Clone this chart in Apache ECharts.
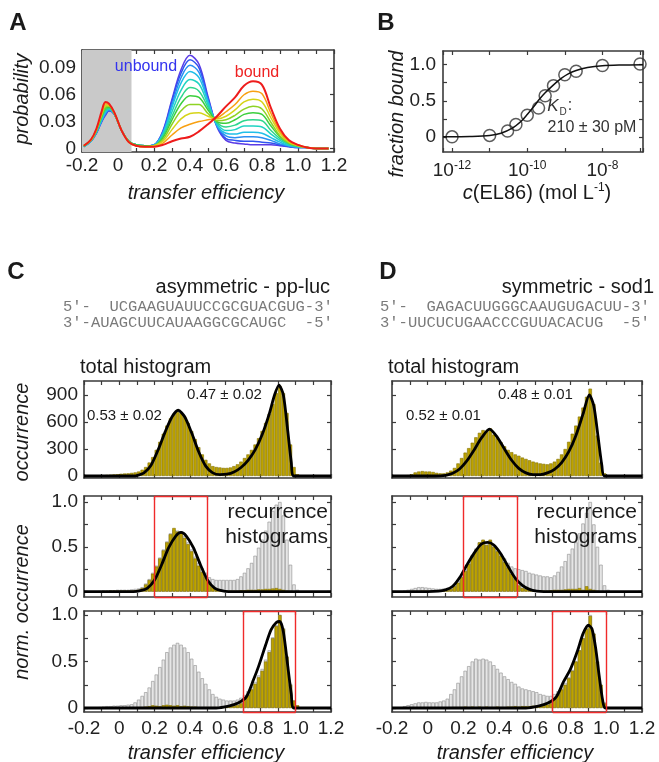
<!DOCTYPE html>
<html>
<head>
<meta charset="utf-8">
<script src="https://cdn.jsdelivr.net/npm/echarts@6/dist/echarts.min.js"></script>
<style>
html, body { margin: 0; padding: 0; background: #fff; }
#main { width: 659px; height: 762px; }
</style>
</head>
<body>
<div id="main"></div>
<script>
// ---- panel A: transfer efficiency histograms vs. EL86 (unbound -> bound)
var effA = [-0.19, -0.15, -0.12, -0.09, -0.07, -0.05, -0.02, 0.02, 0.06, 0.1, 0.15, 0.2, 0.25, 0.3, 0.35, 0.4,
  0.45, 0.5, 0.55, 0.6, 0.65, 0.7, 0.75, 0.8, 0.85, 0.9, 0.95, 1.0, 1.05, 1.1, 1.17];
var probA = [
  [0.002,0.008,0.017,0.030,0.037,0.042,0.038,0.020,0.008,0.004,0.003,0.004,0.020,0.055,0.088,0.104,0.094,0.058,0.024,0.009,0.006,0.005,0.004,0.004,0.004,0.003,0.002,0.001,0.001,0,0],
  [0.002,0.008,0.017,0.031,0.038,0.042,0.038,0.020,0.008,0.004,0.003,0.004,0.019,0.053,0.084,0.099,0.090,0.056,0.025,0.011,0.009,0.008,0.008,0.007,0.006,0.004,0.002,0.001,0.001,0,0],
  [0.002,0.008,0.018,0.031,0.039,0.043,0.038,0.020,0.008,0.004,0.003,0.004,0.018,0.049,0.079,0.093,0.085,0.054,0.025,0.014,0.012,0.013,0.013,0.012,0.009,0.005,0.003,0.001,0.001,0,0],
  [0.002,0.008,0.018,0.032,0.040,0.044,0.038,0.020,0.008,0.004,0.003,0.004,0.017,0.046,0.073,0.086,0.079,0.052,0.026,0.017,0.016,0.018,0.018,0.017,0.012,0.007,0.003,0.002,0.001,0,0],
  [0.002,0.009,0.019,0.034,0.042,0.044,0.039,0.020,0.008,0.004,0.003,0.003,0.015,0.041,0.065,0.077,0.072,0.049,0.028,0.020,0.021,0.025,0.025,0.024,0.016,0.009,0.004,0.002,0.001,0,0],
  [0.002,0.009,0.019,0.035,0.043,0.045,0.039,0.020,0.008,0.004,0.003,0.003,0.014,0.036,0.057,0.068,0.064,0.046,0.029,0.024,0.026,0.031,0.032,0.031,0.020,0.011,0.005,0.002,0.001,0,0],
  [0.003,0.009,0.020,0.036,0.045,0.046,0.039,0.020,0.008,0.004,0.003,0.003,0.012,0.032,0.050,0.059,0.057,0.043,0.030,0.028,0.032,0.038,0.040,0.038,0.025,0.013,0.006,0.003,0.001,0,0],
  [0.003,0.009,0.020,0.037,0.046,0.047,0.039,0.020,0.008,0.003,0.002,0.003,0.010,0.027,0.042,0.049,0.049,0.039,0.031,0.032,0.037,0.044,0.047,0.044,0.029,0.014,0.006,0.003,0.001,0,0],
  [0.003,0.009,0.021,0.039,0.048,0.048,0.039,0.020,0.007,0.003,0.002,0.003,0.008,0.021,0.033,0.039,0.040,0.036,0.033,0.036,0.043,0.052,0.055,0.052,0.034,0.017,0.007,0.003,0.001,0,0],
  [0.003,0.010,0.021,0.040,0.050,0.049,0.040,0.020,0.007,0.003,0.002,0.002,0.006,0.015,0.023,0.027,0.030,0.032,0.034,0.041,0.049,0.060,0.064,0.061,0.039,0.019,0.008,0.004,0.001,0,0],
  [0.003,0.010,0.022,0.042,0.052,0.050,0.040,0.020,0.007,0.003,0.002,0.002,0.004,0.008,0.011,0.013,0.019,0.027,0.036,0.047,0.057,0.070,0.075,0.071,0.045,0.022,0.009,0.004,0.001,0,0]
];
var colorsA = ['#5a3be6', '#2f55f0', '#2a8ff2', '#20bfe8', '#1fd4c2', '#2ed68c', '#3ccf3e', '#8ed324', '#d6d418', '#f8a012', '#ee1c1c'];
var grayEdgeA = 0.075;

// ---- panel B: binding isotherm
var concB = [1e-12, 1e-11, 3e-11, 5e-11, 1e-10, 2e-10, 3e-10, 5e-10, 1e-9, 2e-9, 1e-8, 1e-7];
var fracB = [0.0, 0.02, 0.08, 0.17, 0.30, 0.40, 0.57, 0.71, 0.86, 0.91, 0.99, 1.01];
var fitConcB = [5.75e-13, 1e-12, 3e-12, 1e-11, 2e-11, 4e-11, 7e-11, 1e-10, 1.5e-10, 2.1e-10, 3e-10, 5e-10, 8e-10, 1.2e-9, 2e-9, 4e-9, 1e-8, 3e-8, 1.2e-7];
var fitFracB = [0.0, 0.0, 0.005, 0.02, 0.05, 0.12, 0.22, 0.31, 0.42, 0.52, 0.61, 0.72, 0.81, 0.87, 0.92, 0.96, 0.985, 0.995, 1.0];

// ---- panels C and D: histograms, bins of 0.02 centred from -0.13 to 1.03
var binE = [];
for (var i = 0; i < 59; i++) binE.push(Math.round((-0.13 + 0.02 * i) * 100) / 100);

var totC = [0,5,8,12,15,18,20,25,28,30,35,40,50,70,100,150,210,290,380,470,560,640,690,710,700,660,590,500,410,320,
  240,180,140,110,100,95,90,90,95,110,130,160,200,240,290,350,420,500,590,690,800,920,1000,920,700,350,100,20,0];
var midCgray = [0,0.005,0.01,0.01,0.015,0.015,0.02,0.02,0.02,0.02,0.025,0.03,0.035,0.05,0.09,0.14,0.21,0.29,0.38,0.47,
  0.56,0.65,0.69,0.68,0.67,0.62,0.55,0.47,0.39,0.32,0.26,0.21,0.16,0.14,0.13,0.13,0.13,0.13,0.13,0.13,
  0.14,0.17,0.21,0.26,0.32,0.4,0.49,0.58,0.68,0.78,0.9,0.97,1.0,0.85,0.58,0.3,0.08,0.02,0];
var midCgold = [0,0,0.005,0.005,0.01,0.01,0.01,0.01,0.01,0.01,0.01,0.015,0.02,0.04,0.08,0.13,0.2,0.28,0.37,0.46,
  0.55,0.64,0.71,0.67,0.66,0.6,0.53,0.45,0.37,0.29,0.22,0.16,0.09,0.05,0.03,0.02,0.015,0.01,0.01,0.01,
  0.01,0.015,0.015,0.02,0.02,0.02,0.025,0.025,0.03,0.03,0.035,0.04,0.03,0.02,0.01,0.005,0,0,0];
var botCgray = [0.005,0.01,0.015,0.02,0.02,0.025,0.025,0.03,0.03,0.035,0.04,0.06,0.09,0.13,0.17,0.22,0.29,0.36,0.44,0.52,
  0.6,0.65,0.68,0.7,0.68,0.65,0.6,0.53,0.46,0.39,0.32,0.26,0.2,0.15,0.12,0.1,0.09,0.08,0.08,0.08,
  0.09,0.11,0.14,0.18,0.23,0.28,0.35,0.42,0.52,0.62,0.76,0.89,1.0,0.86,0.56,0.26,0.08,0.02,0];
var botCgold = [0,0,0,0,0,0,0,0,0,0,0.005,0.005,0.01,0.01,0.015,0.02,0.03,0.025,0.02,0.03,
  0.035,0.03,0.025,0.03,0.02,0.025,0.02,0.015,0.015,0.01,0.01,0.01,0.01,0.01,0.01,0.01,0.015,0.015,0.02,0.025,
  0.03,0.05,0.1,0.14,0.2,0.26,0.33,0.4,0.5,0.6,0.75,0.88,1.0,0.85,0.55,0.25,0.08,0.03,0];

var totD = [5,10,20,40,50,55,50,50,45,35,30,30,40,60,90,140,200,260,310,370,430,480,510,490,530,460,420,375,330,290,
  265,240,225,205,190,175,160,150,140,135,130,140,160,190,240,300,380,470,560,660,760,880,970,800,450,150,30,0,0];
var midDgray = [0.01,0.02,0.03,0.04,0.05,0.05,0.045,0.04,0.035,0.03,0.03,0.035,0.04,0.05,0.08,0.12,0.18,0.25,0.33,0.41,
  0.48,0.55,0.57,0.55,0.57,0.52,0.47,0.42,0.37,0.32,0.28,0.26,0.25,0.24,0.23,0.21,0.2,0.19,0.18,0.17,
  0.17,0.16,0.18,0.22,0.28,0.34,0.42,0.48,0.55,0.65,0.76,0.88,1.0,0.75,0.5,0.3,0.07,0.02,0];
var midDgold = [0,0,0.005,0.005,0.005,0.01,0.01,0.005,0.005,0.005,0.005,0.01,0.015,0.03,0.06,0.1,0.16,0.23,0.31,0.4,
  0.46,0.55,0.58,0.52,0.58,0.5,0.45,0.4,0.33,0.27,0.2,0.14,0.07,0.04,0.03,0.02,0.015,0.01,0.01,0.01,
  0.01,0.015,0.02,0.02,0.02,0.025,0.03,0.03,0.03,0.04,0.02,0.06,0.03,0.02,0.01,0,0,0,0];
var botDgray = [0.02,0.03,0.04,0.05,0.06,0.06,0.065,0.06,0.06,0.06,0.07,0.08,0.1,0.15,0.2,0.27,0.34,0.4,0.45,0.5,
  0.53,0.52,0.53,0.52,0.5,0.46,0.42,0.38,0.34,0.31,0.28,0.26,0.23,0.21,0.2,0.19,0.18,0.17,0.15,0.14,
  0.13,0.13,0.15,0.18,0.22,0.27,0.33,0.41,0.5,0.62,0.75,0.86,1.0,0.8,0.5,0.25,0.06,0.01,0];
var botDgold = [0,0,0,0,0,0,0,0,0,0,0,0.005,0.005,0.005,0.01,0.01,0.01,0.015,0.01,0.015,
  0.01,0.015,0.01,0.015,0.01,0.01,0.015,0.01,0.01,0.015,0.015,0.02,0.015,0.02,0.02,0.02,0.025,0.025,0.03,0.03,
  0.035,0.05,0.1,0.15,0.2,0.25,0.32,0.4,0.5,0.62,0.75,0.85,0.99,0.8,0.5,0.25,0.05,0.01,0];

// fitted curves as [E, value]
var fitCtop = [[-0.2,0],[0.08,0],[0.1,5],[0.14,35],[0.18,120],[0.22,290],[0.26,490],[0.3,660],[0.334,730],[0.37,660],
  [0.41,480],[0.45,270],[0.49,110],[0.53,35],[0.57,15],[0.61,20],[0.65,45],[0.69,95],[0.73,175],[0.77,290],
  [0.81,460],[0.85,690],[0.88,900],[0.905,1010],[0.93,900],[0.955,500],[0.975,150],[0.99,0],[1.2,0]];
var fitCmid = [[-0.2,0],[0.08,0],[0.12,0.01],[0.16,0.04],[0.2,0.13],[0.24,0.3],[0.28,0.49],[0.32,0.62],[0.35,0.66],
  [0.38,0.62],[0.42,0.49],[0.46,0.3],[0.5,0.13],[0.54,0.04],[0.58,0.01],[0.62,0],[1.2,0]];
var fitCbot = [[-0.2,0],[0.55,0],[0.62,0.02],[0.67,0.05],[0.72,0.12],[0.76,0.3],[0.79,0.45],[0.83,0.68],[0.86,0.84],
  [0.89,0.92],[0.91,0.93],[0.93,0.82],[0.955,0.45],[0.975,0.15],[0.99,0],[1.2,0]];
var fitDtop = [[-0.2,0],[0.04,0],[0.1,8],[0.14,30],[0.18,80],[0.22,170],[0.26,290],[0.3,420],[0.346,520],[0.39,430],
  [0.43,300],[0.47,175],[0.51,85],[0.55,35],[0.59,15],[0.63,15],[0.67,35],[0.71,75],[0.75,150],[0.79,270],
  [0.83,450],[0.87,690],[0.905,900],[0.93,780],[0.955,420],[0.975,120],[0.99,0],[1.2,0]];
var fitDmid = [[-0.2,0],[0,0],[0.06,0.005],[0.1,0.02],[0.14,0.06],[0.18,0.16],[0.22,0.3],[0.26,0.43],[0.3,0.53],
  [0.336,0.55],[0.37,0.52],[0.41,0.42],[0.45,0.28],[0.49,0.15],[0.53,0.07],[0.57,0.025],[0.61,0.005],[0.65,0],[1.2,0]];
var fitDbot = [[-0.2,0],[0.55,0],[0.62,0.02],[0.67,0.05],[0.72,0.12],[0.76,0.28],[0.8,0.42],[0.84,0.62],[0.87,0.8],
  [0.9,0.89],[0.92,0.85],[0.94,0.65],[0.96,0.35],[0.98,0.08],[0.995,0],[1.2,0]];

// selection windows (red boxes)
var winLow = [0.2, 0.5];
var winHigh = [0.7, 1.0];

// tick values / labels
var effTicks = [-0.2,-0.1,0,0.1,0.2,0.3,0.4,0.5,0.6,0.7,0.8,0.9,1.0,1.1,1.2];
var effLabVals = [-0.2,0,0.2,0.4,0.6,0.8,1.0,1.2];
var effLabText = ['-0.2','0','0.2','0.4','0.6','0.8','1.0','1.2'];
var probTicks = [0,0.03,0.06,0.09];
var probLabText = ['0','0.03','0.06','0.09'];
var occTicks = [0,300,600,900];
var occLabText = ['0','300','600','900'];
var normTicks = [0,0.25,0.5,0.75,1.0];
var normLabVals = [0,0.5,1.0];
var normLabText = ['0','0.5','1.0'];

// ---- styling
var FONT = '"Liberation Sans", Arial, sans-serif';
var frame = '#3a3a3a';
var goldFill = '#bda300', goldEdge = '#857200';
var grayFill = '#e6e6e6', grayEdge = '#8e8e8e';

var grids = [
  {left: 82, top: 50, width: 252, height: 102},   // A
  {left: 443, top: 51, width: 200, height: 101},  // B
  {left: 84, top: 381, width: 247, height: 97},   // C total
  {left: 84, top: 496, width: 247, height: 101},  // C low window
  {left: 84, top: 611, width: 247, height: 101},  // C high window
  {left: 392, top: 381, width: 250, height: 97},  // D total
  {left: 392, top: 496, width: 250, height: 101}, // D low window
  {left: 392, top: 611, width: 250, height: 101}  // D high window
];
var yRange = [[-0.004, 0.11], [-0.21, 1.19], [-22, 1055], [-0.06, 1.067], [-0.043, 1.043], [-22, 1055], [-0.06, 1.067], [-0.043, 1.043]];

function labelFmt(vals, texts) {
  return function (v) {
    for (var k = 0; k < vals.length; k++) {
      if (Math.abs(v - vals[k]) < 1e-6) return texts[k];
    }
    return '';
  };
}

function makeAxis(gi, pos, type, min, max, ticks, labVals, labText, showLab, margin) {
  var ax = {
    type: type, gridIndex: gi, position: pos, min: min, max: max,
    splitLine: {show: false},
    axisLine: {show: true, onZero: false, lineStyle: {color: frame, width: 1.6}},
    axisTick: {show: true, inside: true, length: 4, lineStyle: {color: frame, width: 1.2}},
    axisLabel: {show: !!showLab, margin: margin || 6, color: '#222', fontSize: 19, fontFamily: FONT}
  };
  if (ticks) ax.axisTick.customValues = ticks;
  if (labVals) {
    ax.axisLabel.customValues = labVals;
    ax.axisLabel.formatter = labelFmt(labVals, labText);
  }
  return ax;
}

var xAxes = [], yAxes = [];
var xShow = [true, true, false, false, true, false, false, true];
var yShow = [true, true, true, true, true, false, false, false];
for (var g = 0; g < grids.length; g++) {
  if (g === 1) {
    var logFmt = function (v) {
      var e = Math.log10(v), r = Math.round(e);
      if (Math.abs(e - r) > 0.01 || [-12, -10, -8].indexOf(r) < 0) return '';
      return '{b|10}{s|' + r + '}';
    };
    var bx = makeAxis(1, 'bottom', 'log', 5.75e-13, 1.2e-7, null, null, null, true, 8);
    bx.logBase = 10;
    bx.axisLabel.formatter = logFmt;
    bx.axisLabel.rich = {b: {fontSize: 19, fontFamily: FONT, color: '#222'}, s: {fontSize: 12, fontFamily: FONT, color: '#222', padding: [0, 0, 10, 0]}};
    var bxt = makeAxis(1, 'top', 'log', 5.75e-13, 1.2e-7, null, null, null, false);
    bxt.logBase = 10;
    xAxes.push(bx, bxt);
    yAxes.push(makeAxis(1, 'left', 'value', yRange[1][0], yRange[1][1], normTicks, normLabVals, normLabText, true, 7));
    yAxes.push(makeAxis(1, 'right', 'value', yRange[1][0], yRange[1][1], normTicks, null, null, false));
    continue;
  }
  var yt, ylv, ylt;
  if (g === 0) { yt = probTicks; ylv = probTicks; ylt = probLabText; }
  else if (g === 2 || g === 5) { yt = occTicks; ylv = occTicks; ylt = occLabText; }
  else { yt = normTicks; ylv = normLabVals; ylt = normLabText; }
  xAxes.push(makeAxis(g, 'bottom', 'value', -0.2, 1.2, effTicks, effLabVals, effLabText, xShow[g], g === 0 ? 4 : 7));
  xAxes.push(makeAxis(g, 'top', 'value', -0.2, 1.2, effTicks, null, null, false));
  yAxes.push(makeAxis(g, 'left', 'value', yRange[g][0], yRange[g][1], yt, ylv, ylt, yShow[g], 6));
  yAxes.push(makeAxis(g, 'right', 'value', yRange[g][0], yRange[g][1], yt, null, null, false));
}

function pairs(xs, ys) { return xs.map(function (x, k) { return [x, ys[k]]; }); }

function barSeries(g, vals, fill, edge) {
  return {
    type: 'bar', xAxisIndex: 2 * g, yAxisIndex: 2 * g, data: pairs(binE, vals),
    barWidth: 3.4, barGap: '-100%', silent: true,
    itemStyle: {color: fill, borderColor: edge, borderWidth: 0.6}
  };
}
function fitSeries(g, pts, win) {
  var s = {
    type: 'line', xAxisIndex: 2 * g, yAxisIndex: 2 * g, data: pts, showSymbol: false, smooth: 0.25,
    silent: true, z: 4, lineStyle: {color: '#000', width: 2.8}
  };
  if (win) {
    var y0 = yRange[g][0], y1 = yRange[g][1];
    s.markLine = {
      silent: true, symbol: ['none', 'none'], label: {show: false},
      lineStyle: {color: '#f02a2a', width: 1.4, type: 'solid'},
      data: [
        [{coord: [win[0], y0]}, {coord: [win[0], y1]}],
        [{coord: [win[1], y0]}, {coord: [win[1], y1]}],
        [{coord: [win[0], y0]}, {coord: [win[1], y0]}],
        [{coord: [win[0], y1]}, {coord: [win[1], y1]}]
      ]
    };
  }
  return s;
}

var series = [];
// A
probA.forEach(function (curve, k) {
  var s = {
    type: 'line', xAxisIndex: 0, yAxisIndex: 0, data: pairs(effA, curve), showSymbol: false,
    smooth: 0.35, silent: true, lineStyle: {color: colorsA[k], width: k === probA.length - 1 ? 2 : 1.5}
  };
  if (k === 0) {
    s.markArea = {silent: true, itemStyle: {color: '#c9c9c9'}, data: [[{xAxis: -0.2}, {xAxis: grayEdgeA}]]};
  }
  series.push(s);
});
// B
series.push({
  type: 'line', xAxisIndex: 2, yAxisIndex: 2, data: pairs(fitConcB, fitFracB), showSymbol: false,
  smooth: 0.3, silent: true, lineStyle: {color: '#111', width: 1.5}
});
series.push({
  type: 'scatter', xAxisIndex: 2, yAxisIndex: 2, data: pairs(concB, fracB), symbol: 'circle', symbolSize: 12,
  silent: true, itemStyle: {color: 'rgba(255,255,255,0)', borderColor: '#333', borderWidth: 1.5}
});
// C
series.push(barSeries(2, totC, goldFill, goldEdge), fitSeries(2, fitCtop));
series.push(barSeries(3, midCgray, grayFill, grayEdge), barSeries(3, midCgold, goldFill, goldEdge), fitSeries(3, fitCmid, winLow));
series.push(barSeries(4, botCgray, grayFill, grayEdge), barSeries(4, botCgold, goldFill, goldEdge), fitSeries(4, fitCbot, winHigh));
// D
series.push(barSeries(5, totD, goldFill, goldEdge), fitSeries(5, fitDtop));
series.push(barSeries(6, midDgray, grayFill, grayEdge), barSeries(6, midDgold, goldFill, goldEdge), fitSeries(6, fitDmid, winLow));
series.push(barSeries(7, botDgray, grayFill, grayEdge), barSeries(7, botDgold, goldFill, goldEdge), fitSeries(7, fitDbot, winHigh));

function txt(text, x, y, size, opts) {
  opts = opts || {};
  return {
    type: 'text', x: x, y: y, z: 100, rotation: opts.rot || 0, silent: true,
    style: {
      text: text, fill: opts.color || '#1a1a1a', textAlign: opts.align || 'center', textVerticalAlign: 'middle',
      font: (opts.style || '') + ' ' + size + 'px ' + (opts.family || FONT)
    }
  };
}
var MONO = '"Liberation Mono", "DejaVu Sans Mono", monospace';
var graphics = [
  txt('A', 18, 23, 24, {style: 'bold'}),
  txt('B', 386, 23, 24, {style: 'bold'}),
  txt('C', 16, 272, 24, {style: 'bold'}),
  txt('D', 388, 272, 24, {style: 'bold'}),
  // A
  txt('unbound', 146, 67, 16, {color: '#3333ee'}),
  txt('bound', 257, 73, 16, {color: '#ee2222'}),
  txt('probability', 22, 99, 20, {style: 'italic', rot: Math.PI / 2}),
  txt('transfer efficiency', 206, 193, 20, {style: 'italic'}),
  // B
  txt('fraction bound', 397, 114, 20, {style: 'italic', rot: Math.PI / 2}),
  txt('K', 553, 106, 17, {style: 'italic', color: '#333'}),
  txt('D', 563, 112, 10, {color: '#333'}),
  txt(':', 570, 106, 16, {color: '#333'}),
  txt('210 \u00b1 30 pM', 592, 128, 16, {color: '#333'}),
  {
    type: 'text', x: 537, y: 193, z: 100, silent: true,
    style: {
      text: '{i|c}{n|(EL86) (mol L}{s|-1}{n|)}', textAlign: 'center', textVerticalAlign: 'middle',
      rich: {
        i: {fontSize: 20, fontStyle: 'italic', fontFamily: FONT, fill: '#1a1a1a'},
        n: {fontSize: 20, fontFamily: FONT, fill: '#1a1a1a'},
        s: {fontSize: 12, fontFamily: FONT, fill: '#1a1a1a', padding: [0, 0, 10, 0]}
      }
    }
  },
  // C header
  txt('asymmetric - pp-luc', 330, 287, 20, {align: 'right'}),
  txt('5\u2032-  UCGAAGUAUUCCGCGUACGUG-3\u2032', 63, 307, 15.5, {align: 'left', family: MONO, color: '#7a7a7a'}),
  txt('3\u2032-AUAGCUUCAUAAGGCGCAUGC  -5\u2032', 63, 323, 15.5, {align: 'left', family: MONO, color: '#7a7a7a'}),
  txt('total histogram', 80, 367, 20, {align: 'left'}),
  txt('0.53 \u00b1 0.02', 87, 416, 15, {align: 'left'}),
  txt('0.47 \u00b1 0.02', 187, 395, 15, {align: 'left'}),
  txt('recurrence', 328, 512, 21, {align: 'right'}),
  txt('histograms', 328, 537, 21, {align: 'right'}),
  txt('occurrence', 22, 432, 20, {style: 'italic', rot: Math.PI / 2}),
  txt('norm. occurrence', 22, 602, 20, {style: 'italic', rot: Math.PI / 2}),
  txt('transfer efficiency', 206, 753, 20, {style: 'italic'}),
  // D header
  txt('symmetric - sod1', 654, 287, 20, {align: 'right'}),
  txt('5\u2032-  GAGACUUGGGCAAUGUGACUU-3\u2032', 380, 307, 15.5, {align: 'left', family: MONO, color: '#7a7a7a'}),
  txt('3\u2032-UUCUCUGAACCCGUUACACUG  -5\u2032', 380, 323, 15.5, {align: 'left', family: MONO, color: '#7a7a7a'}),
  txt('total histogram', 388, 367, 20, {align: 'left'}),
  txt('0.52 \u00b1 0.01', 406, 416, 15, {align: 'left'}),
  txt('0.48 \u00b1 0.01', 498, 395, 15, {align: 'left'}),
  txt('recurrence', 637, 512, 21, {align: 'right'}),
  txt('histograms', 637, 537, 21, {align: 'right'}),
  txt('transfer efficiency', 515, 753, 20, {style: 'italic'})
];

var chart = echarts.init(document.getElementById('main'));
chart.setOption({
  animation: false,
  backgroundColor: '#fff',
  grid: grids,
  xAxis: xAxes,
  yAxis: yAxes,
  series: series,
  graphic: graphics
});
</script>
</body>
</html>
